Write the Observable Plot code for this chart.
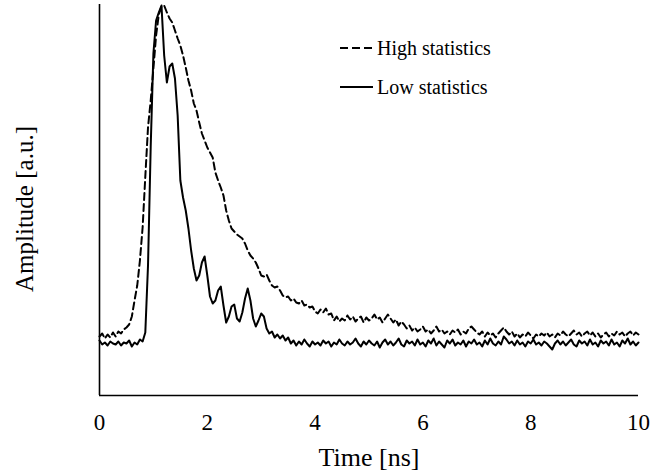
<!DOCTYPE html>
<html>
<head>
<meta charset="utf-8">
<script src="https://cdn.jsdelivr.net/npm/d3@7"></script>
<script src="https://cdn.jsdelivr.net/npm/@observablehq/plot@0.6"></script>
<style>
  html, body { margin: 0; padding: 0; background: #fff; }
  #wrap { position: relative; width: 651px; height: 473px; }
  #legend { position: absolute; left: 0; top: 0; pointer-events: none; }
  text { font-family: "Liberation Serif", "DejaVu Serif", serif; }
</style>
</head>
<body>
<div id="wrap"></div>
<script>
// Sampling of the traces: one value every 0.05 ns from 0 to 10 ns
const timeStepNs = 0.05;

// Low statistics trace (arbitrary units, baseline ~0)
const lowStats = [
  3,-1,1,-2,2,0,-1,2,-2,1,0,3,-3,1,-1,4,2,
  11,78,197,290,323,331,338,288,261,277,280,265,228,163,
  146,133,115,93,75,63,68,81,87,68,
  47,40,43,53,57,38,21,27,37,39,
  25,22,31,45,55,43,25,17,23,30,
  27,15,10,12,6,9,5,8,3,6,
  0,3,-2,2,-1,4,0,-3,2,-1,
  1,-2,3,0,2,-3,1,-1,4,0,
  -2,2,-1,1,5,0,-3,2,-1,3,
  0,-2,2,-4,1,4,-1,2,-2,1,
  5,-1,-3,3,0,2,-2,4,-1,1,
  -3,3,0,5,-2,2,-1,-4,3,0,
  4,-2,1,-1,3,-3,2,0,4,-1,
  1,-3,3,-1,5,0,-2,2,-1,7,
  4,0,2,-2,3,-1,1,-3,2,0,
  4,-1,1,-2,2,0,-3,-6,0,3,
  -1,2,-2,1,4,-1,-3,3,0,2,
  -2,4,-1,1,-3,3,0,2,-2,4,
  -1,1,-3,3,0,5,-1,2,-2,1
];

// High statistics trace (arbitrary units)
const highStats = [
  7,10,5,9,6,11,7,12,10,14,16,
  19,27,43,58,83,116,167,216,243,275,
  308,329,337,338,331,325,321,313,305,298,
  288,276,263,253,240,233,221,210,203,196,
  191,186,171,163,156,148,133,123,115,112,
  109,107,105,100,93,88,85,81,75,68,
  67,69,63,58,56,57,53,48,46,47,
  43,45,41,40,43,38,39,36,37,32,
  30,34,31,35,29,30,23,27,22,25,
  23,28,24,27,22,25,27,21,26,23,
  25,29,24,26,21,25,29,25,21,24,
  18,22,19,15,18,13,16,12,14,17,
  12,14,10,13,17,12,14,10,12,9,
  13,11,14,9,12,10,15,17,14,11,
  9,12,7,11,8,10,6,10,13,16,
  12,9,12,7,10,6,9,7,11,8,
  5,9,7,10,8,11,7,9,6,10,
  8,12,9,7,10,13,9,11,7,10,
  12,8,11,7,10,6,9,11,7,10,
  8,12,9,11,7,10,12,8,11,9
];

const xTicks = [0, 2, 4, 6, 8, 10];
const xLabel = "Time [ns]";
const yLabel = "Amplitude [a.u.]";
const seriesNames = ["High statistics", "Low statistics"];

const highData = highStats.map((v, i) => ({t: i * timeStepNs, a: v}));
const lowData = lowStats.map((v, i) => ({t: i * timeStepNs, a: v}));

const font = '"Liberation Serif", "DejaVu Serif", serif';

const chart = Plot.plot({
  width: 651,
  height: 473,
  marginLeft: 99,
  marginRight: 13,
  marginTop: 4,
  marginBottom: 78,
  style: {fontFamily: font, background: "#fff", color: "#000"},
  x: {domain: [0, 10]},
  y: {domain: [-52, 339], axis: null},
  marks: [
    Plot.axisX({ticks: xTicks, tickSize: 0, tickPadding: 18, fontSize: 23, label: null, tickFormat: d => String(d)}),
    Plot.text([xLabel], {frameAnchor: "bottom", dy: 62, lineAnchor: "middle", fontSize: 26, fill: "#000"}),
    Plot.text([yLabel], {frameAnchor: "left", dx: -75, dy: 9, rotate: -90, textAnchor: "middle", lineAnchor: "middle", fontSize: 25, fill: "#000"}),
    Plot.line(highData, {x: "t", y: "a", stroke: "#000", strokeWidth: 2, strokeDasharray: "7,4"}),
    Plot.line(lowData, {x: "t", y: "a", stroke: "#000", strokeWidth: 2}),
    Plot.ruleX([0], {stroke: "#000", strokeWidth: 1.6}),
    Plot.ruleY([-52], {stroke: "#000", strokeWidth: 1.6})
  ]
});

const wrap = document.getElementById("wrap");
wrap.appendChild(chart);

// Legend overlay
const ns = "http://www.w3.org/2000/svg";
const leg = document.createElementNS(ns, "svg");
leg.setAttribute("id", "legend");
leg.setAttribute("width", 651);
leg.setAttribute("height", 120);
const items = [
  {name: seriesNames[0], dash: "8,4", y: 48},
  {name: seriesNames[1], dash: null, y: 87}
];
for (const it of items) {
  const ln = document.createElementNS(ns, "line");
  ln.setAttribute("x1", 340); ln.setAttribute("x2", 373);
  ln.setAttribute("y1", it.y); ln.setAttribute("y2", it.y);
  ln.setAttribute("stroke", "#000"); ln.setAttribute("stroke-width", 2);
  if (it.dash) ln.setAttribute("stroke-dasharray", it.dash);
  leg.appendChild(ln);
  const tx = document.createElementNS(ns, "text");
  tx.setAttribute("x", 377); tx.setAttribute("y", it.y + 7);
  tx.setAttribute("font-size", 20);
  tx.setAttribute("fill", "#000");
  tx.textContent = it.name;
  leg.appendChild(tx);
}
wrap.appendChild(leg);
</script>
</body>
</html>
